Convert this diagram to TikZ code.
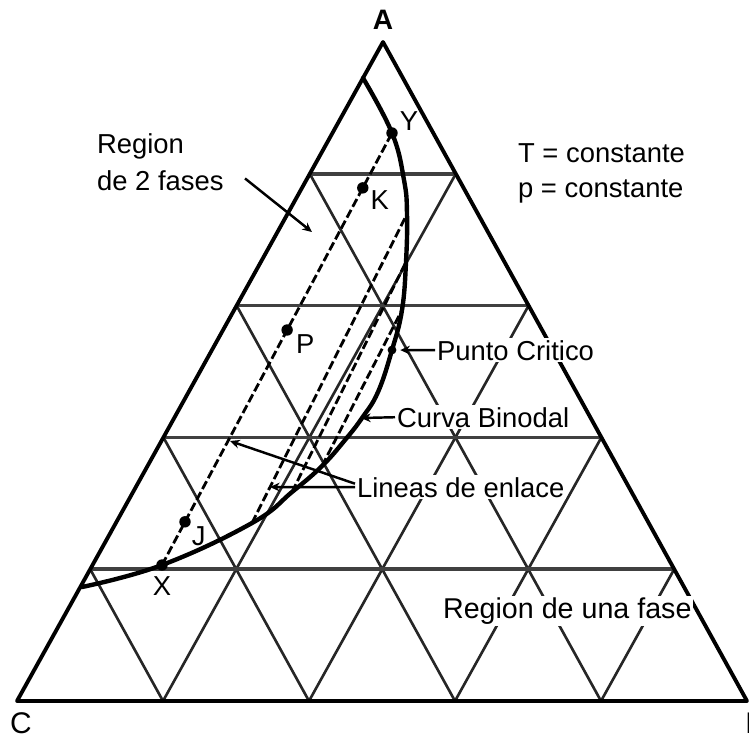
\documentclass[tikz,border=0pt]{standalone}
\usepackage{fontspec}
\setmainfont{Liberation Sans}
\usetikzlibrary{positioning,calc,arrows.meta}

\begin{document}
\begin{tikzpicture}[x=0.02cm,y=-0.02cm,
  every node/.style={font=\fontsize{15.6}{18}\selectfont},
  side/.style={line width=2.2pt,line join=round},
  gridline/.style={line width=1.5pt,black!85},
  level/.style={line width=2pt,black!75},
  binodal/.style={line width=2.5pt,line cap=round},
  tieline/.style={line width=1.6pt,dash pattern=on 5pt off 2pt},
  pt/.style={circle,fill,inner sep=0pt,minimum size=6.5pt},
  ptlabel/.style={inner sep=0pt,label distance=1pt},
  txt/.style={fill=white,inner sep=1pt,anchor=base west},
  pointer/.style={line width=1.4pt,-{Stealth[length=5.5pt,width=5pt]}}
]
\useasboundingbox (0,0) rectangle (749,738);

% the corners
\coordinate (A) at (383,42);
\coordinate (C) at (17,701);
\coordinate (B) at (747,701);

% the grid
\foreach \k in {1,...,4} {
  \draw[gridline] ($(A)!\k/5!(C)$) -- ($(B)!\k/5!(C)$);
  \draw[gridline] ($(A)!\k/5!(B)$) -- ($(C)!\k/5!(B)$);
  \draw[level] ($(A)!\k/5!(C)$) -- ($(A)!\k/5!(B)$);
}
\draw[side] (A) -- (C) -- (B) -- cycle;

% the binodal curve
\coordinate (e1) at (82,587);
\coordinate (cX) at (162,565);
\coordinate (t2a) at (252,523);
\coordinate (t3a) at (292,492);
\coordinate (t4a) at (322,466);
\coordinate (crit) at (392,350);
\coordinate (t4b) at (402,310);
\coordinate (t3b) at (406,262);
\coordinate (t2b) at (407,214);
\coordinate (cY) at (392,133);
\coordinate (e2) at (363,78);
\draw[binodal] plot[smooth,tension=0.7] coordinates {(e1) (cX) (t2a) (t3a) (t4a)
  (345,440) (362,418) (378,392) (crit) (t4b) (t3b) (t2b) (404,180) (cY) (e2)};

% the tie lines
\draw[tieline] (cX) -- (cY);
\draw[tieline] (t2a) -- (t2b);
\draw[tieline] (t3a) -- (t3b);
\draw[tieline] (t4a) -- (t4b);

% the points
\node[pt] (X) at (cX) [label={[ptlabel,label distance=3pt]below:X}] {};
\node[pt] (J) at ($(cX)!0.1!(cY)$) [label={[ptlabel]-35:J}] {};
\node[pt] (P) at ($(cX)!0.544!(cY)$) [label={[ptlabel,label distance=2pt]-25:P}] {};
\node[pt] (K) at ($(cX)!0.873!(cY)$) [label={[ptlabel]-15:K}] {};
\node[pt] (Y) at (cY) [label={[ptlabel]15:Y}] {};
\node[pt,minimum size=5pt] (cp) at (crit) {};

% the corner names
\node[anchor=base,font=\fontsize{16}{18}\selectfont\bfseries] (nA) at (383,29) {A};
\node[anchor=base,font=\fontsize{17}{20}\selectfont] (nC) at (21,733) {C};
\node[anchor=base west,inner sep=0pt,font=\fontsize{17}{20}\selectfont] (nB) at (745,733) {B};

% the texts
\node[txt] (reg) at (95,153) {Region};
\node[txt] (fas) at (95,190) {de 2 fases};
\node[txt] (tc) at (516,162) {T = constante};
\node[txt] (pc) at (516,197) {p = constante};
\node[txt] (crt) at (435,360) {Punto Critico};
\node[txt] (bin) at (395,427) {Curva Binodal};
\node[txt] (lin) at (355,497) {Lineas de enlace};
\node[txt,font=\fontsize{16.3}{18}\selectfont] (one) at (441,618) {Region de una fase};

% the pointers
\coordinate (r2) at (312,232);
\coordinate (cb) at (361,418);
\coordinate (l1) at (230,441);
\coordinate (l2) at (270,487);
\draw[pointer] ([xshift=11pt,yshift=1pt]fas.east) -- (r2);
\draw[pointer,shorten >=2pt] (crt.west) -- (cp);
\draw[pointer] (bin.west) -- (cb);
\draw[pointer] (lin.west) -- (l2);
\draw[pointer] ([yshift=2pt]lin.west) -- (l1);
\end{tikzpicture}
\end{document}
